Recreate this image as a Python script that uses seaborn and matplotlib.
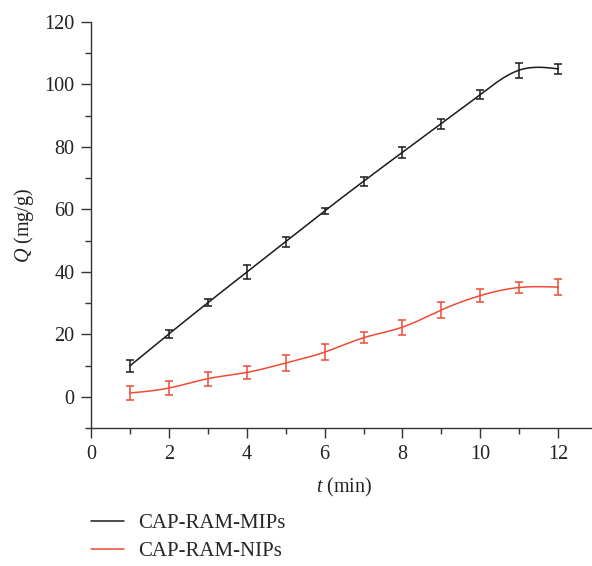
import numpy as np
import pandas as pd
import matplotlib
matplotlib.use("Agg")
import matplotlib.pyplot as plt
import seaborn as sns
from matplotlib.ticker import MultipleLocator
from matplotlib.lines import Line2D

# Adsorption time (min)
t_min = [1, 2, 3, 4, 5, 6, 7, 8, 9, 10, 11, 12]
# Adsorption capacity Q (mg/g) and standard deviations
q_mips = [9.9, 20.1, 30.1, 39.9, 49.7, 59.5, 69.0, 78.3, 87.5, 96.8, 104.6, 105.0]
err_mips = [1.9, 1.3, 1.1, 2.2, 1.6, 1.0, 1.4, 1.7, 1.6, 1.5, 2.4, 1.6]
q_nips = [1.2, 2.8, 5.8, 7.8, 10.8, 14.3, 18.9, 22.3, 27.8, 32.4, 35.0, 35.1]
err_nips = [2.1, 2.1, 2.2, 2.0, 2.7, 2.5, 1.8, 2.4, 2.6, 2.1, 1.9, 2.5]

series_names = ["CAP-RAM-MIPs", "CAP-RAM-NIPs"]
series_colors = ["#1a1a1a", "#ee4b36"]


def natural_spline(x, y, n=400):
    """Natural cubic spline through (x, y), evaluated on a dense grid."""
    x = np.asarray(x, float)
    y = np.asarray(y, float)
    k = len(x)
    h = np.diff(x)
    A = np.zeros((k, k))
    r = np.zeros(k)
    A[0, 0] = A[-1, -1] = 1.0
    for i in range(1, k - 1):
        A[i, i - 1] = h[i - 1]
        A[i, i] = 2 * (h[i - 1] + h[i])
        A[i, i + 1] = h[i]
        r[i] = 3 * ((y[i + 1] - y[i]) / h[i] - (y[i] - y[i - 1]) / h[i - 1])
    c = np.linalg.solve(A, r)
    b = (y[1:] - y[:-1]) / h - h * (2 * c[:-1] + c[1:]) / 3
    d = (c[1:] - c[:-1]) / (3 * h)
    xs = np.linspace(x[0], x[-1], n)
    idx = np.clip(np.searchsorted(x, xs, side="right") - 1, 0, k - 2)
    dx = xs - x[idx]
    ys = y[idx] + b[idx] * dx + c[idx] * dx ** 2 + d[idx] * dx ** 3
    return xs, ys


sns.set_theme(style="ticks")
plt.rcParams["font.family"] = ["Liberation Serif", "DejaVu Serif"]
plt.rcParams["mathtext.fontset"] = "custom"
plt.rcParams["mathtext.it"] = "Liberation Serif:italic"
plt.rcParams["mathtext.rm"] = "Liberation Serif"

fig = plt.figure(figsize=(5.92, 5.66), dpi=100)
ax = fig.add_axes([0.1537, 0.2438, 0.855, 0.7173])

frames = []
for name, q in zip(series_names, [q_mips, q_nips]):
    xs, ys = natural_spline(t_min, q)
    frames.append(pd.DataFrame({"t": xs, "Q": ys, "series": name}))
curves = pd.concat(frames, ignore_index=True)

sns.lineplot(data=curves, x="t", y="Q", hue="series", palette=series_colors,
             linewidth=1.1, legend=False, ax=ax, sort=False, estimator=None)

for q, e, col in zip([q_mips, q_nips], [err_mips, err_nips], series_colors):
    ax.errorbar(t_min, q, yerr=e, fmt="none", ecolor=col, elinewidth=1.1,
                capsize=3, capthick=1.1)

ax.set_xlim(0, 13)
ax.set_ylim(-10, 120)
ax.xaxis.set_major_locator(MultipleLocator(2))
ax.xaxis.set_minor_locator(MultipleLocator(1))
ax.yaxis.set_major_locator(MultipleLocator(20))
ax.yaxis.set_minor_locator(MultipleLocator(10))
ax.set_yticks(range(0, 121, 20))
ax.set_xticks(range(0, 13, 2))
ax.tick_params(which="major", direction="out", length=7, width=1.0,
               labelsize=14.5, color="#333333", labelcolor="#222222", pad=5)
ax.tick_params(which="minor", direction="out", length=4, width=1.0,
               color="#333333")
for side in ["top", "right"]:
    ax.spines[side].set_visible(False)
for side in ["left", "bottom"]:
    ax.spines[side].set_linewidth(1.0)
    ax.spines[side].set_color("#333333")

ax.set_xlabel(r"$\mathit{t}$ (min)", fontsize=14.5, color="#222222", labelpad=9)
ax.set_ylabel(r"$\mathit{Q}$ (mg/g)", fontsize=14.5, color="#222222", labelpad=6)

handles = [Line2D([], [], color=c, linewidth=1.1) for c in series_colors]
fig.legend(handles, series_names, loc="upper left",
           bbox_to_anchor=(0.139, 0.107), frameon=False, fontsize=15,
           handlelength=1.6, handletextpad=0.7, labelspacing=0.4,
           borderaxespad=0)

fig.savefig("out.png", dpi=100)
